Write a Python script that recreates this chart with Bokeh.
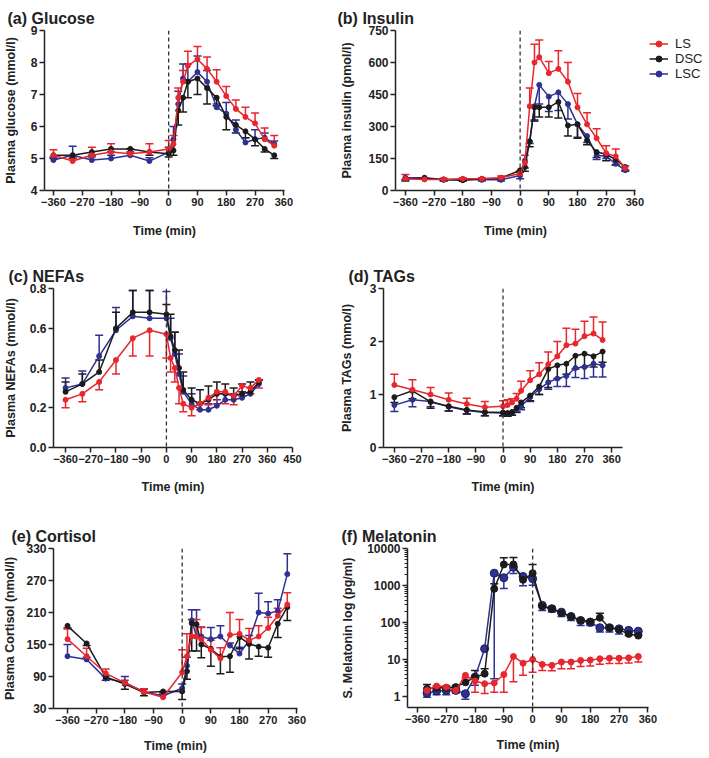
from bokeh.plotting import figure
from bokeh.models import (Range1d, FixedTicker, PrintfTickFormatter, Span, Whisker, TeeHead,
                          ColumnDataSource, Legend, LegendItem)
from bokeh.layouts import column, row
from bokeh.embed import file_html
from bokeh.resources import INLINE

RED = "#e8262d"
BLACK = "#1b1b1b"
BLUE = "#2e3192"
FONT = "Liberation Sans"

# ---------------- data ----------------
times = [-360, -300, -240, -180, -120, -60, 0, 15, 30, 45, 60, 90, 120, 150, 180, 210, 240, 270, 300, 330]
mel_times = [-330, -300, -270, -240, -210, -180, -150, -120, -90, -60, -30, 0,
             30, 60, 90, 120, 150, 180, 210, 240, 270, 300, 330]

x_ticks = [-360, -270, -180, -90, 0, 90, 180, 270, 360]
x_ticks_nefa = [-360, -270, -180, -90, 0, 90, 180, 270, 360, 450]

# (a) Glucose
glu_ls = [5.1, 4.92, 5.1, 5.2, 5.15, 5.2, 5.3, 5.45, 6.9, 7.4, 7.9, 8.1, 7.8, 7.4, 6.95, 6.55, 6.3, 6.1, 5.6, 5.4]
glu_ls_err = [0.17, 0.1, 0.25, 0.26, 0.15, 0.26, 0.26, 0.27, 0.3, 0.35, 0.45, 0.4, 0.37, 0.37, 0.3, 0.28, 0.3, 0.32, 0.35, 0.32]
glu_dsc = [5.1, 5.1, 5.2, 5.3, 5.3, 5.2, 5.15, 5.25, 6.5, 6.9, 7.4, 7.5, 7.2, 6.9, 6.3, 6.05, 5.85, 5.6, 5.3, 5.1]
glu_dsc_err = [0.1, 0.1, 0.1, 0.1, 0.1, 0.1, 0.1, 0.15, 0.45, 0.45, 0.5, 0.5, 0.5, 0.25, 0.4, 0.25, 0.2, 0.2, 0.1, 0.1]
glu_lsc = [4.95, 5.1, 4.95, 5.0, 5.1, 4.92, 5.2, 5.6, 6.7, 7.5, 7.4, 7.7, 7.4, 6.6, 6.4, 5.9, 5.5, 5.6, 5.65, 5.45]
glu_lsc_err = [0.1, 0.28, 0.1, 0.1, 0.2, 0.1, 0.15, 0.4, 0.4, 0.45, 0.55, 0.5, 0.35, 0.1, 0.35, 0.3, 0.15, 0.3, 0.15, 0.1]

# (b) Insulin
ins_ls = [55, 52, 52, 55, 55, 60, 80, 130, 395, 600, 625, 550, 570, 510, 390, 310, 245, 175, 160, 105]
ins_ls_err = [20, 5, 5, 5, 5, 8, 12, 35, 85, 85, 80, 55, 85, 90, 65, 55, 45, 35, 35, 10]
ins_dsc = [55, 58, 50, 48, 55, 58, 95, 110, 230, 390, 390, 390, 415, 305, 310, 235, 180, 170, 145, 110]
ins_dsc_err = [10, 5, 5, 5, 5, 5, 10, 20, 25, 60, 45, 45, 75, 50, 65, 20, 25, 30, 25, 15]
ins_lsc = [60, 60, 52, 52, 50, 50, 70, 140, 230, 395, 495, 440, 460, 405, 310, 255, 165, 160, 125, 95]
ins_lsc_err = [10, 5, 5, 5, 5, 5, 15, 35, 10, 70, 90, 70, 85, 70, 60, 30, 20, 10, 5, 5]

# (c) NEFAs
nefa_ls = [0.24, 0.27, 0.33, 0.44, 0.55, 0.59, 0.57, 0.45, 0.40, 0.30, 0.22, 0.20, 0.22, 0.25, 0.28, 0.28, 0.26, 0.31, 0.30, 0.34]
nefa_ls_err = [0.04, 0.04, 0.04, 0.07, 0.09, 0.13, 0.12, 0.07, 0.07, 0.08, 0.04, 0.04, 0.03, 0.035, 0.06, 0.06, 0.045, 0.05, 0.03, 0.04]
nefa_dsc = [0.28, 0.32, 0.38, 0.60, 0.68, 0.68, 0.67, 0.56, 0.49, 0.40, 0.29, 0.24, 0.22, 0.24, 0.27, 0.27, 0.26, 0.27, 0.28, 0.33]
nefa_dsc_err = [0.05, 0.05, 0.06, 0.08, 0.11, 0.11, 0.05, 0.11, 0.09, 0.09, 0.09, 0.06, 0.07, 0.07, 0.06, 0.05, 0.04, 0.05, 0.05, 0.01]
nefa_lsc = [0.30, 0.32, 0.46, 0.59, 0.66, 0.65, 0.65, 0.55, 0.47, 0.37, 0.28, 0.22, 0.19, 0.19, 0.21, 0.24, 0.24, 0.25, 0.27, 0.32]
nefa_lsc_err = [0.05, 0.065, 0.105, 0.115, 0.13, 0.14, 0.135, 0.1, 0.11, 0.1, 0.08, 0.05, 0.03, 0.03, 0.03, 0.03, 0.03, 0.03, 0.03, 0.02]

# (d) TAGs
tag_ls = [1.18, 1.09, 1.0, 0.9, 0.82, 0.76, 0.78, 0.80, 0.85, 0.92, 1.07, 1.27, 1.38, 1.57, 1.72, 1.93, 1.96, 2.1, 2.15, 2.03]
tag_ls_err = [0.2, 0.19, 0.13, 0.13, 0.11, 0.11, 0.1, 0.1, 0.07, 0.1, 0.18, 0.18, 0.22, 0.23, 0.28, 0.32, 0.27, 0.28, 0.31, 0.34]
tag_dsc = [0.95, 1.07, 0.86, 0.78, 0.71, 0.67, 0.66, 0.65, 0.67, 0.75, 0.85, 0.98, 1.15, 1.48, 1.55, 1.58, 1.73, 1.77, 1.72, 1.81]
tag_dsc_err = [0.1, 0.15, 0.12, 0.09, 0.08, 0.07, 0.06, 0.06, 0.06, 0.08, 0.1, 0.1, 0.15, 0.35, 0.25, 0.2, 0.25, 0.25, 0.2, 0.2]
tag_lsc = [0.80, 0.90, 0.87, 0.77, 0.70, 0.66, 0.65, 0.64, 0.66, 0.72, 0.78, 0.95, 1.10, 1.23, 1.30, 1.35, 1.50, 1.52, 1.58, 1.55]
tag_lsc_err = [0.12, 0.13, 0.1, 0.08, 0.07, 0.06, 0.05, 0.05, 0.05, 0.06, 0.07, 0.08, 0.1, 0.13, 0.15, 0.2, 0.18, 0.22, 0.25, 0.22]

# (e) Cortisol
cor_ls = [160, 128, 96, 78, 61, 51, 98, 128, 165, 165, 160, 140, 124, 168, 170, 158, 165, 181, 204, 225]
cor_ls_err = [19, 15, 8, 5, 6, 8, 42, 42, 32, 32, 22, 18, 20, 42, 27, 22, 20, 20, 14, 22]
cor_dsc = [185, 152, 89, 76, 60, 62, 62, 100, 190, 188, 150, 142, 127, 128, 164, 151, 146, 144, 189, 220]
cor_dsc_err = [4, 4, 6, 10, 6, 6, 15, 15, 52, 50, 25, 33, 32, 30, 22, 28, 18, 18, 26, 25]
cor_lsc = [128, 122, 86, 79, 61, 54, 68, 110, 195, 165, 165, 160, 165, 148, 133, 157, 210, 208, 213, 282]
cor_lsc_err = [22, 4, 5, 11, 5, 5, 8, 16, 20, 50, 18, 22, 20, 5, 12, 10, 36, 22, 21, 38]

# (f) Melatonin
mel_ls = [1.45, 1.9, 1.78, 1.45, 3.7, 2.6, 2.2, 2.3, 3.9, 12, 7.9, 10, 7.3, 6.9, 8.5, 8.5, 9.4, 9.6, 10.4, 10.8, 10.8, 11, 12]
mel_ls_err = [0.3, 0.2, 0.3, 0.2, 0.5, 1.3, 1.0, 1.0, 2.6, 9.5, 4.2, 5.5, 2.3, 2.0, 2.9, 2.9, 3.0, 3.0, 3.0, 3.0, 3.0, 3.0, 3.5]
mel_dsc = [1.6, 1.7, 1.7, 1.78, 2.4, 3.3, 4.1, 813, 3700, 3700, 1420, 2150, 270, 235, 178, 145, 113, 106, 134, 72, 63, 49, 44]
mel_dsc_err = [0.5, 0.2, 0.2, 0.2, 0.3, 1.7, 1.5, 300, 1900, 2000, 300, 1550, 30, 20, 15, 10, 8, 8, 44, 8, 6, 5, 4]
mel_lsc = [1.23, 1.4, 1.45, 1.45, 1.18, 3.3, 19.5, 2150, 1620, 3100, 1750, 1520, 290, 235, 190, 145, 113, 100, 72, 72, 67, 61, 58]
mel_lsc_err = [0.28, 0.3, 0.35, 0.2, 0.35, 1.3, 1.0, 2147, 790, 1000, 760, 500, 80, 42, 45, 32, 30, 17, 17, 17, 18, 17, 14]


def panel(title, title_offset, frame, borders, xr, xticks, yr, yticks, ylabel, series,
          y_type="linear", yfmt=None, ylab_standoff=10, xlab_standoff=12, minor=None):
    fw, fh = frame
    left, right, top, bottom = borders
    p = figure(frame_width=fw, frame_height=fh, x_range=Range1d(*xr), y_range=Range1d(*yr),
               y_axis_type=y_type, output_backend="svg", toolbar_location=None,
               min_border_left=left, min_border_right=right,
               min_border_top=top, min_border_bottom=bottom, title=title)
    p.xgrid.visible = False
    p.ygrid.visible = False
    p.outline_line_color = None
    p.title.text_font = FONT
    p.title.text_font_size = "16px"
    p.title.text_font_style = "bold"
    p.title.text_color = "#222222"
    p.title.align = "left"
    p.title.offset = title_offset
    p.title.standoff = 8
    p.xaxis.ticker = FixedTicker(ticks=xticks)
    if minor is not None:
        p.yaxis.ticker = FixedTicker(ticks=yticks, minor_ticks=minor)
    else:
        p.yaxis.ticker = FixedTicker(ticks=yticks)
    if yfmt:
        p.yaxis.formatter = PrintfTickFormatter(format=yfmt)
    p.xaxis.axis_label = "Time (min)"
    p.yaxis.axis_label = ylabel
    for ax in p.axis:
        ax.axis_line_width = 1.5
        ax.axis_line_color = "#222222"
        ax.major_tick_line_width = 1.5
        ax.major_tick_line_color = "#222222"
        ax.major_tick_out = 5
        ax.major_tick_in = 0
        ax.minor_tick_out = 0
        ax.minor_tick_in = 0
        ax.major_label_text_font = FONT
        ax.major_label_text_font_style = "bold"
        ax.major_label_text_color = "#222222"
        ax.major_label_standoff = 2
        ax.axis_label_text_font = FONT
        ax.axis_label_text_font_style = "bold"
        ax.axis_label_text_font_size = "12.5px"
        ax.axis_label_text_color = "#222222"
    p.xaxis.major_label_text_font_size = "11px"
    p.yaxis.major_label_text_font_size = "12px"
    p.yaxis.axis_label_standoff = ylab_standoff
    p.xaxis.axis_label_standoff = xlab_standoff
    if minor is not None:
        p.yaxis.minor_tick_out = 3
        p.yaxis.minor_tick_line_width = 1
        p.yaxis.minor_tick_line_color = "#222222"

    p.add_layout(Span(location=0, dimension="height", line_color="#333333",
                      line_width=1.3, line_dash="4 3"))
    rends = {}
    for (name, tx, vals, errs, color, direction, ms, mlc) in series:
        up = [v + e for v, e in zip(vals, errs)]
        lo = [v - e for v, e in zip(vals, errs)]
        if direction == "up":
            src = ColumnDataSource(dict(x=tx, y=vals, lower=vals, upper=up))
            wk = Whisker(source=src, base="x", lower="lower", upper="upper", dimension="height",
                         line_color=color, line_width=1.5,
                         upper_head=TeeHead(size=8, line_color=color, line_width=1.5),
                         lower_head=None)
        else:
            src = ColumnDataSource(dict(x=tx, y=vals, lower=lo, upper=vals))
            wk = Whisker(source=src, base="x", lower="lower", upper="upper", dimension="height",
                         line_color=color, line_width=1.5,
                         lower_head=TeeHead(size=8, line_color=color, line_width=1.5),
                         upper_head=None)
        p.add_layout(wk)
        ln = p.line("x", "y", source=src, line_color=color, line_width=1.5)
        sc = p.scatter("x", "y", source=src, size=ms, fill_color=color, line_color=mlc)
        rends[name] = [ln, sc]
    return p, rends


def std_series(t, ls, lse, lsd, dsc, dsce, dscd, lsc, lsce, lscd, ms=5):
    return [
        ("LSC", t, lsc, lsce, BLUE, lscd, ms, BLUE),
        ("DSC", t, dsc, dsce, BLACK, dscd, ms, BLACK),
        ("LS", t, ls, lse, RED, lsd, ms, RED),
    ]


pa, _ = panel("(a) Glucose", -37, (240, 160), (40, 53, 30, 60), (-388, 362), x_ticks,
              (4, 9), [4, 5, 6, 7, 8, 9], "Plasma glucose (mmol/l)",
              std_series(times, glu_ls, glu_ls_err, "up", glu_dsc, glu_dsc_err, "down",
                         glu_lsc, glu_lsc_err, "up"), ylab_standoff=10, xlab_standoff=15)

pb, rb = panel("(b) Insulin", -58, (240, 160), (57, 79, 30, 60), (-391, 362), x_ticks,
               (0, 750), [0, 150, 300, 450, 600, 750], "Plasma insulin (pmol/l)",
               std_series(times, ins_ls, ins_ls_err, "up", ins_dsc, ins_dsc_err, "down",
                          ins_lsc, ins_lsc_err, "down"), ylab_standoff=11, xlab_standoff=15)
legend = Legend(items=[LegendItem(label="LS", renderers=rb["LS"]),
                       LegendItem(label="DSC", renderers=rb["DSC"]),
                       LegendItem(label="LSC", renderers=rb["LSC"])],
                location=(14, 109), border_line_color=None, background_fill_alpha=0,
                padding=0, margin=0, spacing=0, glyph_height=15, label_height=15,
                glyph_width=19, label_standoff=7, label_text_font=FONT,
                label_text_font_size="13px", label_text_color="#222222")
pb.add_layout(legend, "right")

pc, _ = panel("(c)  NEFAs", -45, (239, 159), (50, 44, 38, 53), (-403, 450), x_ticks_nefa,
              (0, 0.8), [0.0, 0.2, 0.4, 0.6, 0.8], "Plasma NEFAs (mmol/l)",
              std_series(times, nefa_ls, nefa_ls_err, "down", nefa_dsc, nefa_dsc_err, "up",
                         nefa_lsc, nefa_lsc_err, "up"), yfmt="%.1f", ylab_standoff=9,
              xlab_standoff=14)

pd_, _ = panel("(d)  TAGs", -35, (239, 159), (45, 92, 38, 53), (-396, 396), x_ticks,
               (0, 3), [0, 1, 2, 3], "Plasma TAGs (mmo/l)",
               std_series(times, tag_ls, tag_ls_err, "up", tag_dsc, tag_dsc_err, "down",
                          tag_lsc, tag_lsc_err, "down"), ylab_standoff=13, xlab_standoff=14)

pe, _ = panel("(e)  Cortisol", -42, (244, 160), (49, 40, 48, 49), (-404, 362), x_ticks,
              (30, 330), [30, 90, 150, 210, 270, 330], "Plasma Cortisol (nmol/l)",
              std_series(times, cor_ls, cor_ls_err, "up", cor_dsc, cor_dsc_err, "down",
                         cor_lsc, cor_lsc_err, "up"), ylab_standoff=6, xlab_standoff=12)

mel_minor = []
for dec in [1, 10, 100, 1000]:
    for k in range(2, 10):
        mel_minor.append(dec * k)
mel_series = [
    ("LSC", mel_times, mel_lsc, mel_lsc_err, BLUE, "down", 8, "#1a1f5e"),
    ("DSC", mel_times, mel_dsc, mel_dsc_err, BLACK, "up", 7, BLACK),
    ("LS", mel_times, mel_ls, mel_ls_err, RED, "down", 6, RED),
]
pf, _ = panel("(f)  Melatonin", -66, (241, 159), (70, 65, 48, 49), (-391, 362), x_ticks,
              (0.5, 10000), [1, 10, 100, 1000, 10000], "S. Melatonin log (pg/ml)",
              mel_series, y_type="log", yfmt="%d", ylab_standoff=9, xlab_standoff=12,
              minor=mel_minor)

layout = column(row(pa, pb), row(pc, pd_), row(pe, pf))
open("out.html", "w").write(file_html(layout, INLINE))
